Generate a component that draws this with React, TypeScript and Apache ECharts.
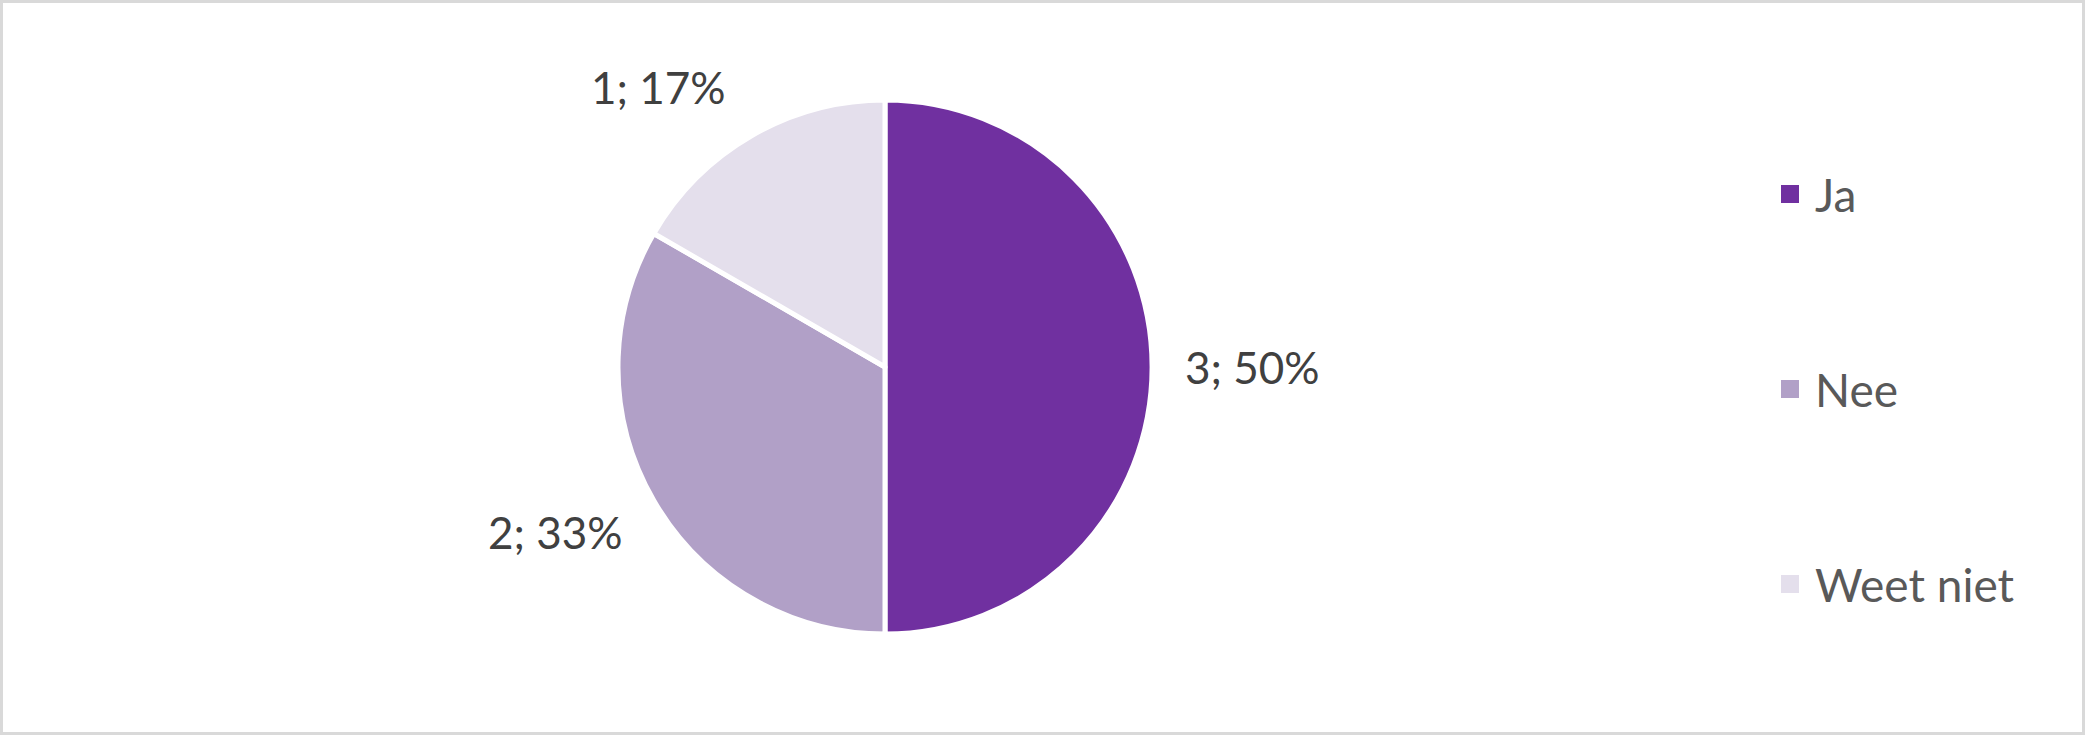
import React, { useEffect, useRef } from "react";
import * as echarts from "echarts";

const categories = ["Ja", "Nee", "Weet niet"];
const values = [3, 2, 1];
const colors = ["#7030A0", "#B1A0C7", "#E4DFEC"];

export default function App() {
  const ref = useRef<HTMLDivElement>(null);
  useEffect(() => {
    const chart = echarts.init(ref.current!, null, { renderer: "svg" });
    const font = "Lato, 'Open Sans', sans-serif";
    chart.setOption({
      animation: false,
      backgroundColor: "#ffffff",
      graphic: [
        {
          type: "rect",
          shape: { x: 1.5, y: 1.5, width: 2082, height: 732 },
          style: { fill: "none", stroke: "#D9D9D9", lineWidth: 3 },
          silent: true,
        },
      ],
      legend: {
        orient: "vertical",
        left: 1779,
        top: 171,
        padding: 0,
        itemWidth: 20,
        itemHeight: 20,
        itemGap: 149,
        icon: "rect",
        data: categories,
        textStyle: {
          fontFamily: font,
          fontSize: 46,
          lineHeight: 44,
          color: "#595959",
          padding: [0, 0, 0, 10],
        },
      },
      series: [
        {
          type: "pie",
          center: [885, 367],
          radius: 267,
          startAngle: 90,
          clockwise: true,
          percentPrecision: 0,
          avoidLabelOverlap: false,
          itemStyle: { borderColor: "#ffffff", borderWidth: 5 },
          label: {
            show: true,
            position: "outside",
            formatter: "{c}; {d}%",
            fontFamily: font,
            fontSize: 44,
            color: "#404040",
          },
          labelLine: { show: false, length: 28, length2: 0 },
          labelLayout: (p: any) => {
            if (p.dataIndex === 1) return { dx: -2, dy: 17 };
            if (p.dataIndex === 2) return { dx: -7, dy: -25 };
            return {};
          },
          emphasis: { disabled: true },
          data: categories.map((c, i) => ({
            name: c,
            value: values[i],
            itemStyle: { color: colors[i] },
          })),
        },
      ],
    });
    return () => chart.dispose();
  }, []);
  return (
    <div
      ref={ref}
      style={{ position: "fixed", left: 0, top: 0, width: 2085, height: 735 }}
    />
  );
}
